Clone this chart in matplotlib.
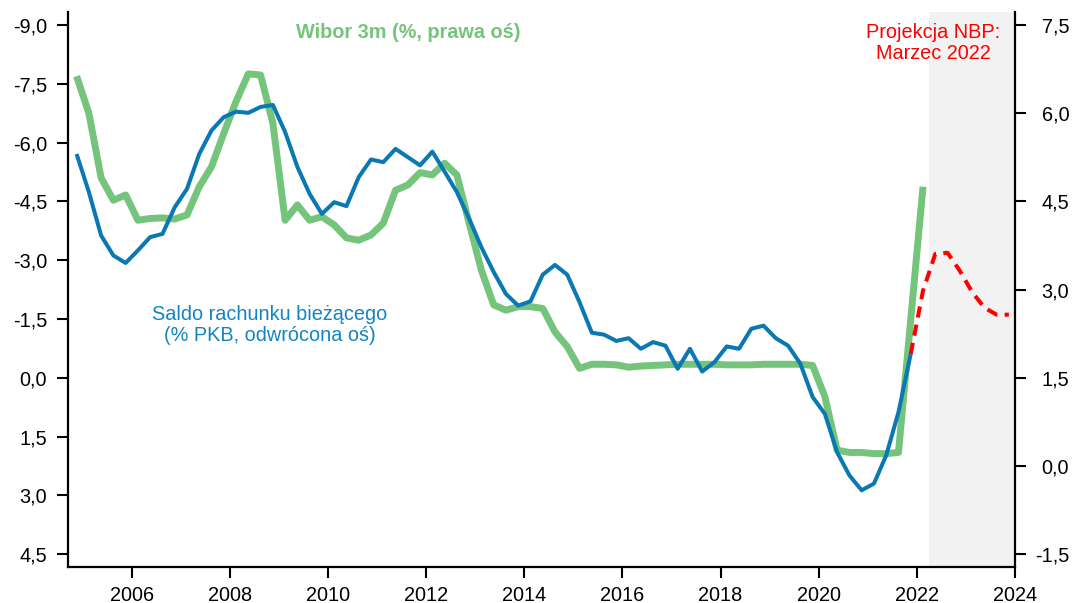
import numpy as np
import matplotlib
matplotlib.use("Agg")
import matplotlib.pyplot as plt

plt.rcParams['font.family'] = ['Liberation Sans', 'DejaVu Sans']

# Quarterly series, first point 2004Q4 (plotted at mid-quarter)
start_year = 2004.875
step = 0.25

# WIBOR 3M, % (right axis), 2004Q4 - 2022Q1
wibor = [6.63,
         6.00, 4.90, 4.52, 4.61,
         4.18, 4.21, 4.22, 4.20,
         4.27, 4.75, 5.09, 5.66,
         6.20, 6.67, 6.65, 5.83,
         4.18, 4.44, 4.18, 4.24,
         4.10, 3.88, 3.84, 3.93,
         4.13, 4.69, 4.78, 4.99,
         4.95, 5.15, 4.95, 4.13,
         3.33, 2.74, 2.65, 2.71,
         2.71, 2.68, 2.28, 2.03,
         1.66, 1.73, 1.73, 1.72,
         1.68, 1.70, 1.71, 1.72,
         1.73, 1.73, 1.73, 1.73,
         1.72, 1.72, 1.72, 1.73,
         1.73, 1.73, 1.73, 1.71,
         1.18, 0.27, 0.23, 0.23,
         0.21, 0.21, 0.23, 2.49,
         4.75]

# Current account balance, % of GDP (left axis, inverted), 2004Q4 - 2021Q4
current_account = [-5.71,
                   -4.74, -3.63, -3.12, -2.93,
                   -3.25, -3.59, -3.67, -4.35,
                   -4.82, -5.71, -6.31, -6.65,
                   -6.79, -6.76, -6.91, -6.96,
                   -6.27, -5.38, -4.69, -4.18,
                   -4.48, -4.38, -5.12, -5.57,
                   -5.50, -5.84, -5.63, -5.42,
                   -5.77, -5.26, -4.74, -4.06,
                   -3.33, -2.70, -2.14, -1.84,
                   -1.95, -2.63, -2.88, -2.63,
                   -1.93, -1.15, -1.10, -0.94,
                   -1.01, -0.74, -0.91, -0.82,
                   -0.23, -0.74, -0.16, -0.40,
                   -0.80, -0.74, -1.25, -1.33,
                   -1.01, -0.82, -0.36, 0.49,
                   0.92, 1.90, 2.49, 2.87,
                   2.70, 1.98, 0.88, -0.61]

# NBP March 2022 projection of the current account, 2021Q4 - 2023Q4
projection = [-0.61, -2.22, -3.16, -3.19, -2.73, -2.19, -1.79, -1.61, -1.61]
projection_start = 2021.875
projection_shade = (2022.25, 2024.0)

left_ticks = [-9.0, -7.5, -6.0, -4.5, -3.0, -1.5, 0.0, 1.5, 3.0, 4.5]
right_ticks = [-1.5, 0.0, 1.5, 3.0, 4.5, 6.0, 7.5]
year_ticks = list(range(2006, 2025, 2))

t_wibor = start_year + step * np.arange(len(wibor))
t_ca = start_year + step * np.arange(len(current_account))
t_proj = projection_start + step * np.arange(len(projection))

GREEN = '#74C47B'
BLUE = '#0A78B2'
BLUE_TXT = '#1384C2'
RED = '#FF0000'
FS = 14.3


def pl(v):
    return f"{v:.1f}".replace('.', ',')


W, H = 1074, 603
fig = plt.figure(figsize=(W / 100, H / 100), dpi=100)
ax = fig.add_axes([68 / W, 1 - 566.7 / H, (1015 - 68) / W, (566.7 - 11.7) / H])
ax2 = ax.twinx()
ax.set_zorder(ax2.get_zorder() + 1)
ax.patch.set_visible(False)

# projection period shading
ax2.axvspan(*projection_shade, color='#F2F2F2', lw=0, zorder=0)

ax2.plot(t_wibor, wibor, color=GREEN, lw=5.0, solid_capstyle='butt', zorder=2)
ax.plot(t_ca, current_account, color=BLUE, lw=2.9, solid_capstyle='butt', zorder=3)
ax.plot(t_proj, projection, color=RED, lw=2.9, dashes=(2.8, 1.8), zorder=3)

ax.set_xlim(2004.70, 2024.0)
ax.set_ylim(4.82, -9.34)
ax2.set_ylim(-1.713, 7.727)

ax.set_xticks(year_ticks)
ax.set_xticklabels([str(y) for y in year_ticks])
ax.set_yticks(left_ticks)
ax.set_yticklabels([pl(v) for v in left_ticks])
ax2.set_yticks(right_ticks)
ax2.set_yticklabels([pl(v) for v in right_ticks])

for a in (ax, ax2):
    a.spines['top'].set_visible(False)
    for s in a.spines.values():
        s.set_linewidth(1.6)
        s.set_color('black')
ax.spines['right'].set_visible(False)
ax2.spines['left'].set_visible(False)
ax2.spines['bottom'].set_visible(False)

ax.tick_params(axis='y', direction='out', length=8, width=1.5, pad=7, labelsize=FS)
ax.tick_params(axis='x', direction='out', length=8, width=1.5, pad=6, labelsize=FS)
ax2.tick_params(axis='y', direction='out', length=8, width=1.5, pad=31, labelsize=FS)
for lab in ax2.get_yticklabels():
    lab.set_horizontalalignment('right')

fig.text(408 / W, 1 - 32 / H, 'Wibor 3m (%, prawa oś)', color=GREEN,
         fontsize=FS, fontweight='bold', ha='center', va='center')
fig.text(270 / W, 1 - 325 / H, 'Saldo rachunku bieżącego\n(% PKB, odwrócona oś)',
         color=BLUE_TXT, fontsize=FS, ha='center', va='center', ma='center',
         linespacing=1.12)
fig.text(933 / W, 1 - 43 / H, 'Projekcja NBP:\nMarzec 2022', color=RED,
         fontsize=FS, ha='center', va='center', ma='center', linespacing=1.12)

fig.savefig('out.png', dpi=100)
